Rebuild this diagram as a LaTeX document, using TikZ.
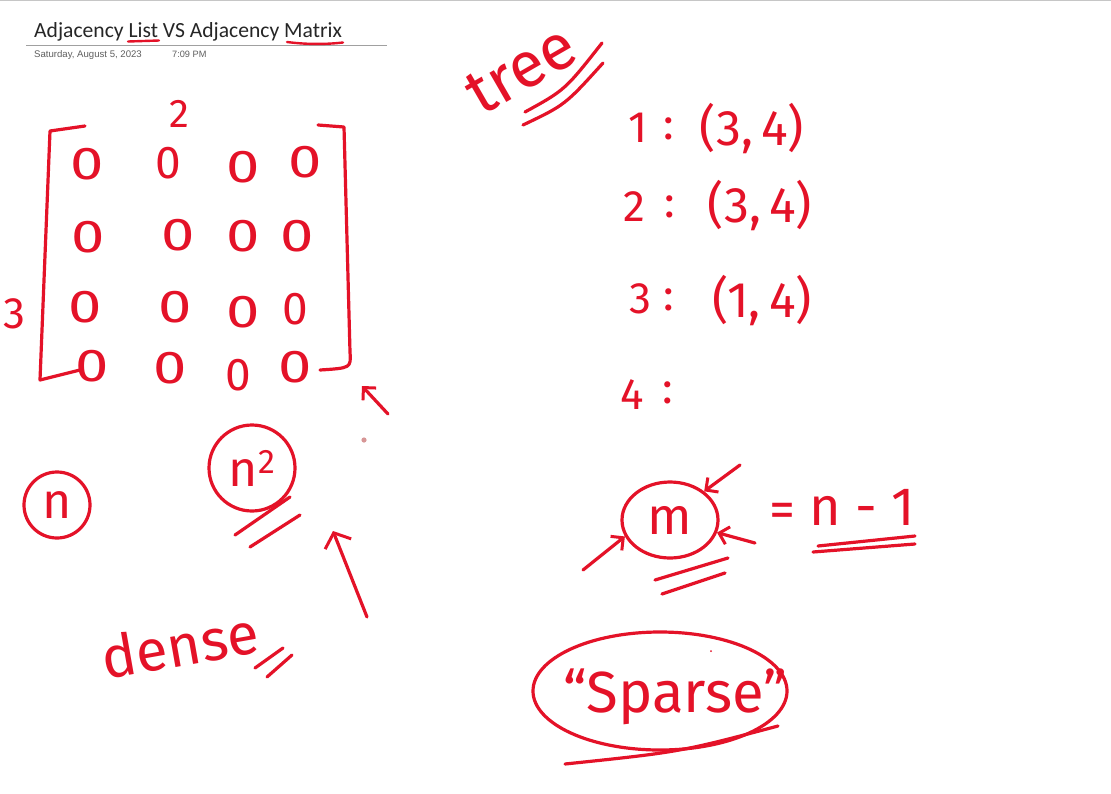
\documentclass[tikz,border=0pt]{standalone}
\usepackage{fontspec}
\usepackage{graphicx}
\setmainfont{Carlito}
\newfontfamily\hand{Fira Sans}
\newfontfamily\datefont{Liberation Sans}
\usetikzlibrary{arrows.meta,shapes.geometric}
\definecolor{pen}{RGB}{228,18,40}
\definecolor{rulegray}{RGB}{160,160,160}
\definecolor{dategray}{RGB}{95,95,95}
\definecolor{dotcol}{RGB}{215,150,150}
\newcommand\zz{\scalebox{1.3}[1]{0}}
\newcommand\hs[1]{\hand\fontsize{#1}{#1}\selectfont}
\begin{document}
\begin{tikzpicture}[x=1pt,y=-1pt,
  stroke/.style={draw=pen,line width=3.2,line cap=round,line join=round},
  hw/.style={text=pen,inner sep=0pt},
  zero/.style={hw,font=\hs{46}},
  ring/.style={stroke,inner sep=0pt},
  penarrow/.style={stroke,-{Straight Barb[length=9pt,width=18pt,line width=3pt]}}]
\useasboundingbox (0,0) rectangle (1111,793);
\fill[white] (0,0) rectangle (1111,793);
\draw[rulegray!60,line width=1] (0,0.5) -- (1111,0.5);
% title
\node[anchor=base west,inner sep=0pt,font=\fontsize{21.6}{22}\selectfont,text=black!85] (title) at (34,37) {Adjacency List VS Adjacency Matrix};
\draw[rulegray,line width=0.9] (26,45.5) -- (387,45.5);
\node[anchor=base west,inner sep=0pt,font=\datefont\fontsize{9.6}{10}\selectfont,text=dategray] (date) at (34,57) {Saturday, August 5, 2023};
\node[anchor=base west,inner sep=0pt,font=\datefont\fontsize{9.2}{10}\selectfont,text=dategray] (time) at (172,57) {7:09 PM};
\draw[stroke,line width=2.4] (128,41.5) -- (159,40.5);
\draw[stroke,line width=2.4] (287,42) .. controls (310,45) and (330,44) .. (343,42.5);
% matrix
\node[zero] (z11) at (87,164) {\zz};
\node[zero] (z12) at (168,163) {0};
\node[zero] (z13) at (243,167) {\zz};
\node[zero] (z14) at (305,162) {\zz};
\node[zero] (z21) at (88,237) {\zz};
\node[zero] (z22) at (178,235) {\zz};
\node[zero] (z23) at (243,236) {\zz};
\node[zero] (z24) at (297,236) {\zz};
\node[zero] (z31) at (85,307) {\zz};
\node[zero] (z32) at (175,307) {\zz};
\node[zero] (z33) at (243,312) {\zz};
\node[zero] (z34) at (295,309) {0};
\node[zero] (z41) at (92,366) {\zz};
\node[zero] (z42) at (170,368) {\zz};
\node[zero] (z43) at (238,375) {0};
\node[zero] (z44) at (295,367) {\zz};
\draw[stroke] (85,126) -- (50,131) -- (40,380) -- (80,370);
\draw[stroke] (318,125) -- (344,127) -- (350,352) .. controls (351,368) .. (320,370);
\node[hw,font=\hs{40}] (two) at (179,114) {2};
\node[hw,font=\hs{44}] (three) at (14,314) {3};
\coordinate (s1t) at (388,414);
\coordinate (s1h) at (362,386);
\draw[penarrow] (s1t) -- (s1h);
\fill[dotcol] (364,440) circle [radius=2.6];
% n and n^2
\node[ring,circle,minimum size=66pt,font=\hs{50},text=pen] (ncirc) at (57,505) {n};
\node[ring,circle,minimum size=86pt,font=\hs{50},text=pen] (n2circ) at (252,468) {n\raisebox{13pt}{\hs{34}2}};
\draw[stroke] (235,535) -- (290,497);
\draw[stroke] (250,547) -- (300,515);
\coordinate (bigt) at (367,617);
\coordinate (bigh) at (333,531);
\draw[stroke,-{Straight Barb[length=12pt,width=28pt,line width=3pt]}] (bigt) -- (bigh);
\node[hw,font=\hs{58},rotate=10] (dense) at (180,645) {dense};
\draw[stroke] (255,668) -- (283,648);
\draw[stroke] (267,677) -- (292,655);
% tree + list
\node[hw,font=\hs{64},rotate=30] (tree) at (521,70) {tree};
\draw[stroke] (525,112) .. controls (565,90) .. (602,43);
\draw[stroke] (523,125) .. controls (565,105) .. (603,63);
\node[hw,font=\hs{44}] (k1) at (638,128) {1};
\node[hw,font=\hs{44}] (c1) at (669,129) {:};
\node[hw,font=\hs{50}] (l1) at (752,129) {(3,\,4)};
\node[hw,font=\hs{44}] (k2) at (634,207) {2};
\node[hw,font=\hs{44}] (c2) at (670,207) {:};
\node[hw,font=\hs{50}] (l2) at (760,206) {(3,\,4)};
\node[hw,font=\hs{44}] (k3) at (640,299) {3};
\node[hw,font=\hs{44}] (c3) at (669,300) {:};
\node[hw,font=\hs{50}] (l3) at (762,301) {(1,\,4)};
\node[hw,font=\hs{44}] (k4) at (632,395) {4};
\node[hw,font=\hs{44}] (c4) at (668,393) {:};
% m
\node[ring,ellipse,minimum width=96pt,minimum height=76pt,font=\hs{52},text=pen] (mcirc) at (670,520) {m};
\coordinate (m1t) at (740,465);
\coordinate (m2t) at (755,543);
\coordinate (m3t) at (583,570);
\draw[penarrow] (m1t) -- (mcirc.40);
\draw[penarrow] (m2t) -- (mcirc.-15);
\draw[penarrow] (m3t) -- (mcirc.200);
\draw[stroke] (655,580) -- (728,558);
\draw[stroke] (662,594) -- (725,573);
\node[hw,font=\hs{52}] (eq) at (782,515) {=};
\node[hw,font=\hs{54}] (nm1) at (862,507) {n - 1};
\draw[stroke] (818,546) -- (915,536);
\draw[stroke] (813,552) -- (915,544);
% sparse
\node[ring,ellipse,minimum width=254pt,minimum height=118pt] (sring) at (660,691) {};
\node[hw,font=\hs{58}] (sparse) at (675,697) {“Sparse”};
\fill[pen] (711,651) circle [radius=1];
\draw[stroke] (565,764) .. controls (680,752) .. (778,726);
\end{tikzpicture}
\end{document}
